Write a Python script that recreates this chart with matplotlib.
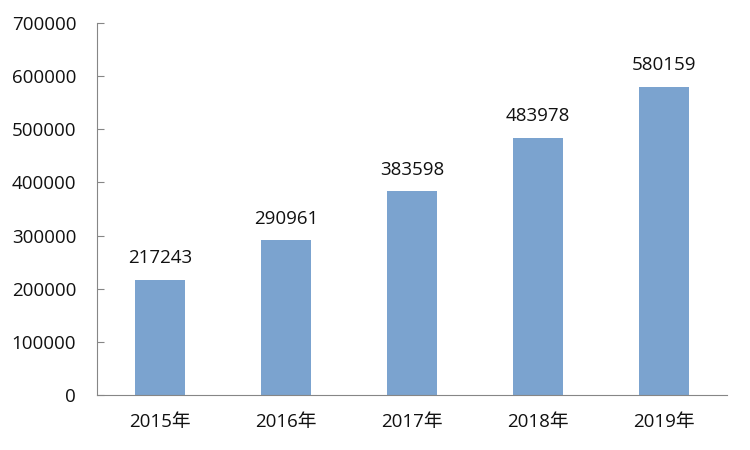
import matplotlib
matplotlib.use('Agg')
import matplotlib.pyplot as plt

plt.rcParams['font.family'] = ['Open Sans', 'Noto Sans CJK SC', 'DejaVu Sans']

years = ['2015年', '2016年', '2017年', '2018年', '2019年']
values = [217243, 290961, 383598, 483978, 580159]
yticks = [0, 100000, 200000, 300000, 400000, 500000, 600000, 700000]

fig = plt.figure(figsize=(7.5, 4.5), dpi=100)
ax = fig.add_axes([0.1293, 0.1222, 0.84, 0.8267])

x = list(range(len(years)))
ax.bar(x, values, width=0.4, color='#7BA3CF')

for xi, v in zip(x, values):
    ax.annotate(str(v), (xi, v), xytext=(0, 9), textcoords='offset points',
                ha='center', va='bottom', fontsize=13.5, color='#111111')

ax.set_xlim(-0.5, len(years) - 0.5)
ax.set_ylim(0, 700000)
ax.set_yticks(yticks)
ax.set_yticklabels([str(t) for t in yticks])
ax.set_xticks(x)
ax.set_xticklabels(years)

for s in ['top', 'right']:
    ax.spines[s].set_visible(False)
for s in ['left', 'bottom']:
    ax.spines[s].set_color('#868686')
ax.tick_params(axis='y', direction='in', length=5, color='#868686',
               labelsize=13.5, labelcolor='#111111', pad=15)
ax.tick_params(axis='x', length=0, labelsize=13.5, labelcolor='#111111', pad=13)

fig.savefig('out.png', dpi=100)
